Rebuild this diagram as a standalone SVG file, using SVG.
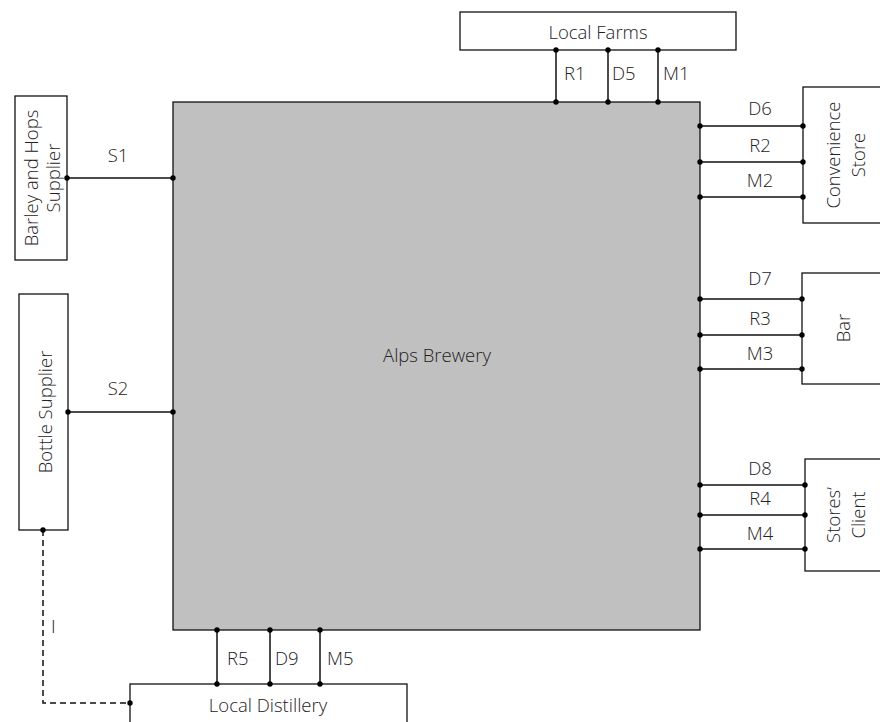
<svg xmlns="http://www.w3.org/2000/svg" width="880" height="722" viewBox="0 0 880 722">
<style>
.box{fill:#fff;stroke:#111;stroke-width:1.3}
.main{fill:#c0c0c0;stroke:#111;stroke-width:1.3}
.ln{stroke:#111;stroke-width:1.5;fill:none}
.dash{stroke:#111;stroke-width:1.5;fill:none;stroke-dasharray:6,4}
.dot{fill:#000}
text{font-family:"Open Sans","Liberation Sans",sans-serif;font-weight:300;font-size:18.5px;fill:#222}
.c{text-anchor:middle}
</style>
<rect width="880" height="722" fill="#fff"/>
<g id="brewery"><rect class="main" x="173" y="102" width="527" height="528"/><text class="c" x="437" y="362">Alps Brewery</text></g>
<g id="local-farms"><rect class="box" x="460" y="12" width="276" height="38"/><text class="c" x="598" y="39">Local Farms</text></g>
<g id="barley"><rect class="box" x="15" y="96" width="52" height="164"/><text class="c" transform="translate(0,178) rotate(-90)"><tspan x="0" y="38">Barley and Hops</tspan><tspan x="0" y="60">Supplier</tspan></text></g>
<g id="bottle"><rect class="box" x="19" y="294" width="49" height="236"/><text class="c" transform="translate(0,412) rotate(-90)" x="0" y="52">Bottle Supplier</text></g>
<g id="convenience"><rect class="box" x="803" y="87" width="90" height="136"/><text class="c" transform="translate(0,155) rotate(-90)"><tspan x="0" y="840">Convenience</tspan><tspan x="0" y="865">Store</tspan></text></g>
<g id="bar"><rect class="box" x="802" y="273" width="90" height="111"/><text class="c" transform="translate(0,328) rotate(-90)" x="0" y="850">Bar</text></g>
<g id="stores-client"><rect class="box" x="805" y="459" width="90" height="112"/><text class="c" transform="translate(0,515) rotate(-90)"><tspan x="0" y="840">Stores’</tspan><tspan x="0" y="865">Client</tspan></text></g>
<g id="distillery"><rect class="box" x="130" y="684" width="277" height="50"/><text class="c" x="268" y="712">Local Distillery</text></g>
<g id="connectors">
<path class="ln" d="M556 50V102M608 50V102M658 50V102"/>
<path class="ln" d="M67 178H173M68 412H173"/>
<path class="ln" d="M700 126H803M700 162H803M700 197H803"/>
<path class="ln" d="M700 299H802M700 335H802M700 369H802"/>
<path class="ln" d="M700 485H805M700 515H805M700 549H805"/>
<path class="ln" d="M217 630V684M270 630V684M320 630V684"/>
<path class="dash" d="M43 530V703H130"/>
<g class="dot">
<circle cx="556" cy="50" r="2.7"/><circle cx="608" cy="50" r="2.7"/><circle cx="658" cy="50" r="2.7"/>
<circle cx="556" cy="102" r="2.7"/><circle cx="608" cy="102" r="2.7"/><circle cx="658" cy="102" r="2.7"/>
<circle cx="67" cy="178" r="2.7"/><circle cx="173" cy="178" r="2.7"/><circle cx="68" cy="412" r="2.7"/><circle cx="173" cy="412" r="2.7"/>
<circle cx="700" cy="126" r="2.7"/><circle cx="803" cy="126" r="2.7"/><circle cx="700" cy="162" r="2.7"/><circle cx="803" cy="162" r="2.7"/><circle cx="700" cy="197" r="2.7"/><circle cx="803" cy="197" r="2.7"/>
<circle cx="700" cy="299" r="2.7"/><circle cx="802" cy="299" r="2.7"/><circle cx="700" cy="335" r="2.7"/><circle cx="802" cy="335" r="2.7"/><circle cx="700" cy="369" r="2.7"/><circle cx="802" cy="369" r="2.7"/>
<circle cx="700" cy="485" r="2.7"/><circle cx="805" cy="485" r="2.7"/><circle cx="700" cy="515" r="2.7"/><circle cx="805" cy="515" r="2.7"/><circle cx="700" cy="549" r="2.7"/><circle cx="805" cy="549" r="2.7"/>
<circle cx="217" cy="630" r="2.7"/><circle cx="270" cy="630" r="2.7"/><circle cx="320" cy="630" r="2.7"/>
<circle cx="217" cy="684" r="2.7"/><circle cx="270" cy="684" r="2.7"/><circle cx="320" cy="684" r="2.7"/>
<circle cx="43" cy="530" r="2.7"/><circle cx="130" cy="703" r="2.7"/>
</g>
<text x="564" y="80">R1</text><text x="612" y="80">D5</text><text x="663" y="80">M1</text>
<text class="c" x="118" y="162">S1</text><text class="c" x="118" y="395">S2</text>
<text class="c" x="760" y="115">D6</text><text class="c" x="760" y="152">R2</text><text class="c" x="760" y="187">M2</text>
<text class="c" x="760" y="285">D7</text><text class="c" x="760" y="325">R3</text><text class="c" x="760" y="360">M3</text>
<text class="c" x="760" y="475">D8</text><text class="c" x="760" y="505">R4</text><text class="c" x="760" y="540">M4</text>
<text x="227" y="665">R5</text><text x="275" y="665">D9</text><text x="327" y="665">M5</text>
<text x="51" y="633">I</text>
</g>
</svg>
